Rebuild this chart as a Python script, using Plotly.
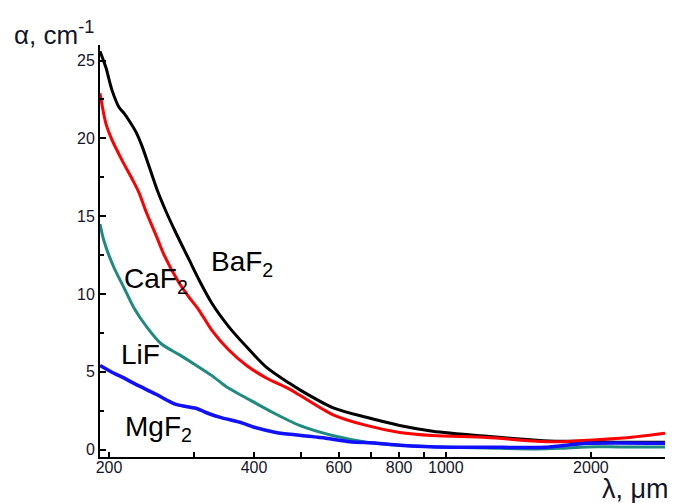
import numpy as np
import plotly.graph_objects as go

# ---- data ----
baf2_lam = [191.6, 197.1, 202.9, 209.8, 215, 220.1, 227.6, 234.2, 242.2, 251.7, 262.7, 275.6, 293.3,
            307.6, 327, 355, 386, 424, 473, 497, 582, 684, 802, 939, 1216, 1545, 1725, 1962, 2298, 2850]
baf2_alpha = [25.6, 24.55, 23.1, 22.0, 21.6, 21.15, 20.4, 19.5, 18.2, 16.7, 15.3, 13.9, 12.2,
              10.9, 9.4, 7.87, 6.6, 5.3, 4.27, 3.85, 2.7, 2.07, 1.55, 1.18, 0.85, 0.6, 0.53, 0.53, 0.47, 0.47]

caf2_lam = [191.6, 197.1, 202.9, 212.8, 223.3, 230.9, 238.7, 251.7, 260.3, 279.7, 293, 307.6,
            327, 355, 386, 424, 473, 497, 582, 684, 802, 939, 1216, 1545, 1725, 1962, 2298, 2850]
caf2_alpha = [22.9, 20.95, 19.9, 18.6, 17.4, 16.5, 15.3, 13.6, 12.5, 10.7, 9.8, 8.95,
              7.66, 6.38, 5.4, 4.6, 3.9, 3.5, 2.25, 1.55, 1.1, 0.9, 0.77, 0.53, 0.5, 0.6, 0.72, 1.05]

lif_lam = [191.6, 195.3, 204.8, 214.9, 225.4, 239.9, 256.6, 279.7, 300.3, 327, 351.7, 386,
           430, 497, 582, 684, 802, 939, 1216, 1545, 1725, 1962, 2298, 2850]
lif_alpha = [14.5, 13.4, 11.7, 10.4, 9.1, 7.85, 6.8, 6.1, 5.5, 4.75, 4.0, 3.3,
             2.5, 1.55, 0.9, 0.47, 0.27, 0.18, 0.1, 0.04, 0.08, 0.17, 0.17, 0.17]

mgf2_lam = [191.6, 204.8, 213, 225.4, 250.5, 275.5, 303, 322.8, 342, 378.6, 400, 444,
            497, 564, 632, 713, 802, 1018, 1216, 1616, 1962, 2850]
mgf2_alpha = [5.4, 4.9, 4.65, 4.25, 3.55, 2.9, 2.65, 2.3, 2.05, 1.7, 1.43, 1.1,
              0.92, 0.73, 0.5, 0.42, 0.28, 0.15, 0.15, 0.15, 0.4, 0.4]

x_tickvals = [200, 300, 400, 500, 600, 700, 800, 900, 1000, 2000]
x_ticktext = ["200", "", "400", "", "600", "", "800", "", "1000", "2000"]
y_tickvals = [0, 5, 10, 15, 20, 25]

FONT = "Arial, Liberation Sans, sans-serif"
TXT = "#15152a"

fig = go.Figure()
series = [
    (baf2_lam, baf2_alpha, "#000000", 3.0, "BaF2"),
    (caf2_lam, caf2_alpha, "#ff0000", 3.0, "CaF2"),
    (lif_lam, lif_alpha, "#1f8a80", 3.0, "LiF"),
    (mgf2_lam, mgf2_alpha, "#1010ff", 3.5, "MgF2"),
]
for lam, a, col, w, name in series:
    fig.add_trace(go.Scatter(x=lam, y=a, mode="lines", name=name,
                             line=dict(color=col, width=w, shape="spline", smoothing=0.8),
                             showlegend=False))

# plot area in page pixels: x 100..665, y 45..457
def px(xp):
    return (xp - 100) / 565.0

def py(yp):
    return (457 - yp) / 412.0

labels = [
    ("BaF<sub>2</sub>", 242, 263),
    ("CaF<sub>2</sub>", 156, 280),
    ("LiF", 140, 354),
    ("MgF<sub>2</sub>", 158, 428),
]
for t, xx, yy in labels:
    fig.add_annotation(text=t, x=px(xx), y=py(yy), xref="paper", yref="paper",
                       showarrow=False, font=dict(family=FONT, size=28, color="#000000"),
                       xanchor="center", yanchor="middle")

fig.add_annotation(text="α, cm<sup>-1</sup>", x=px(12), y=py(34), xref="paper", yref="paper",
                   showarrow=False, xanchor="left", yanchor="middle",
                   font=dict(family=FONT, size=26, color=TXT))
fig.add_annotation(text="λ, μm", x=px(671), y=py(489), xref="paper", yref="paper",
                   showarrow=False, xanchor="right", yanchor="middle",
                   font=dict(family=FONT, size=27, color=TXT))

fig.update_xaxes(type="log", range=[np.log10(191.6), np.log10(2850)],
                 tickmode="array", tickvals=x_tickvals, ticktext=x_ticktext,
                 ticks="inside", ticklen=5, tickwidth=1.5, tickcolor="#000000",
                 ticklabelstandoff=-5,
                 showline=True, linecolor="#000000", linewidth=2,
                 showgrid=False, zeroline=False, mirror=False,
                 tickfont=dict(family=FONT, size=16, color=TXT))
fig.update_yaxes(range=[-0.48, 26.0], tickmode="array", tickvals=y_tickvals,
                 ticks="inside", ticklen=6, tickwidth=1.5, tickcolor="#000000",
                 minor=dict(tick0=0, dtick=2.5, ticks="inside", ticklen=4, tickwidth=1.5,
                            tickcolor="#000000"),
                 showline=True, linecolor="#000000", linewidth=2,
                 showgrid=False, zeroline=False, mirror=False,
                 tickfont=dict(family=FONT, size=16, color=TXT))

# page has an 8px body margin, so the figure is shrunk by 8px on each axis
fig.update_layout(width=667, height=495, margin=dict(l=92, r=10, t=37, b=46, autoexpand=False),
                  plot_bgcolor="white", paper_bgcolor="white")

fig.write_html("out.html")
